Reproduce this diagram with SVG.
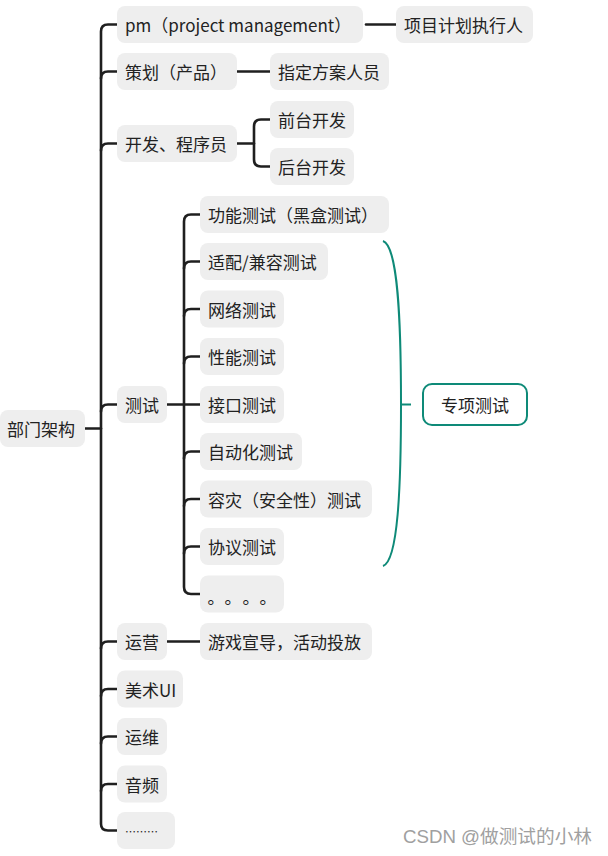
<svg xmlns="http://www.w3.org/2000/svg" width="608" height="856" viewBox="0 0 608 856">
<style>
.b{fill:#eeeeee;}
.t{font-family:"Microsoft YaHei","Noto Sans CJK SC","Noto Sans",sans-serif;font-size:17px;fill:#222;dominant-baseline:central;}
.c{fill:none;stroke:#1f1f1f;stroke-width:2.6;stroke-linecap:round;}
.g{fill:none;stroke:#0e8a78;stroke-width:2;}
</style>
<rect width="608" height="856" fill="#fff"/>
<g id="connectors">
<path class="c" d="M85,428.5 H101"/>
<path class="c" d="M117,24.5 H108 Q101,24.5 101,31.5 V824 Q101,830.5 108,830.5 H117"/>
<path class="c" d="M101,78.5 Q101,71.5 108,71.5 H117"/>
<path class="c" d="M101,150.5 Q101,143.5 108,143.5 H117"/>
<path class="c" d="M101,411.5 Q101,404.5 108,404.5 H117"/>
<path class="c" d="M101,648.5 Q101,641.5 108,641.5 H117"/>
<path class="c" d="M101,696 Q101,689 108,689 H117"/>
<path class="c" d="M101,743.5 Q101,736.5 108,736.5 H117"/>
<path class="c" d="M101,791 Q101,784 108,784 H117"/>
<path class="c" d="M366,24.5 H396"/>
<path class="c" d="M237,71.5 H270"/>
<path class="c" d="M237,143.5 H254"/>
<path class="c" d="M270,119.5 H261 Q254,119.5 254,126.5 V159.5 Q254,166.5 261,166.5 H270"/>
<path class="c" d="M167,404.5 H200"/>
<path class="c" d="M200,214.5 H191 Q184,214.5 184,221.5 V587 Q184,594 191,594 H200"/>
<path class="c" d="M184,268.5 Q184,261.5 191,261.5 H200"/>
<path class="c" d="M184,316 Q184,309 191,309 H200"/>
<path class="c" d="M184,363.5 Q184,356.5 191,356.5 H200"/>
<path class="c" d="M184,458.5 Q184,451.5 191,451.5 H200"/>
<path class="c" d="M184,506 Q184,499 191,499 H200"/>
<path class="c" d="M184,553.5 Q184,546.5 191,546.5 H200"/>
<path class="c" d="M167,641.5 H200"/>
<path class="g" d="M383,241 C398,246 401,320 401,404 C401,488 398,561 383,566"/>
<path class="g" d="M401,404.5 H411"/>
</g>
<g id="root"><rect class="b" x="0" y="410" width="85" height="37" rx="8"/><text class="t" x="7" y="428.5">部门架构</text></g>
<g id="pm"><rect class="b" x="117" y="6" width="246" height="37" rx="8"/><text class="t" x="125" y="24.5">pm（project management）</text></g>
<g id="pm-exec"><rect class="b" x="396" y="6" width="137" height="37" rx="8"/><text class="t" x="404" y="24.5">项目计划执行人</text></g>
<g id="plan"><rect class="b" x="117" y="53" width="120" height="37" rx="8"/><text class="t" x="125" y="71.5">策划（产品）</text></g>
<g id="plan-person"><rect class="b" x="270" y="53" width="119" height="37" rx="8"/><text class="t" x="278" y="71.5">指定方案人员</text></g>
<g id="dev"><rect class="b" x="117" y="125" width="120" height="37" rx="8"/><text class="t" x="125" y="143.5">开发、程序员</text></g>
<g id="frontend"><rect class="b" x="270" y="101" width="84" height="37" rx="8"/><text class="t" x="278" y="119.5">前台开发</text></g>
<g id="backend"><rect class="b" x="270" y="148" width="84" height="37" rx="8"/><text class="t" x="278" y="166.5">后台开发</text></g>
<g id="test"><rect class="b" x="117" y="386" width="50" height="37" rx="8"/><text class="t" x="125" y="404.5">测试</text></g>
<g id="t1"><rect class="b" x="200" y="196" width="189" height="37" rx="8"/><text class="t" x="208" y="214.5">功能测试（黑盒测试）</text></g>
<g id="t2"><rect class="b" x="200" y="243" width="128" height="37" rx="8"/><text class="t" x="208" y="261.5">适配/兼容测试</text></g>
<g id="t3"><rect class="b" x="200" y="290.5" width="84" height="37" rx="8"/><text class="t" x="208" y="309">网络测试</text></g>
<g id="t4"><rect class="b" x="200" y="338" width="84" height="37" rx="8"/><text class="t" x="208" y="356.5">性能测试</text></g>
<g id="t5"><rect class="b" x="200" y="386" width="84" height="37" rx="8"/><text class="t" x="208" y="404.5">接口测试</text></g>
<g id="t6"><rect class="b" x="200" y="433" width="102" height="37" rx="8"/><text class="t" x="208" y="451.5">自动化测试</text></g>
<g id="t7"><rect class="b" x="200" y="480.5" width="172" height="37" rx="8"/><text class="t" x="208" y="499">容灾（安全性）测试</text></g>
<g id="t8"><rect class="b" x="200" y="528" width="84" height="37" rx="8"/><text class="t" x="208" y="546.5">协议测试</text></g>
<g id="t9"><rect class="b" x="200" y="575.5" width="84" height="37" rx="8"/><text style="font-family:'Noto Sans CJK SC',sans-serif;font-size:17px;fill:#222" text-anchor="middle" y="604"><tspan x="216">。</tspan><tspan x="233">。</tspan><tspan x="251">。</tspan><tspan x="268">。</tspan></text></g>
<g id="special"><rect x="423" y="384" width="104" height="41" rx="9" fill="#fff" stroke="#0e8a78" stroke-width="2"/><text class="t" x="475" y="404.5" text-anchor="middle">专项测试</text></g>
<g id="ops"><rect class="b" x="117" y="623" width="50" height="37" rx="8"/><text class="t" x="125" y="641.5">运营</text></g>
<g id="ops-task"><rect class="b" x="200" y="623" width="172" height="37" rx="8"/><text class="t" x="208" y="641.5">游戏宣导，活动投放</text></g>
<g id="art"><rect class="b" x="117" y="670.5" width="66" height="37" rx="8"/><text class="t" x="125" y="689">美术UI</text></g>
<g id="maint"><rect class="b" x="117" y="718" width="50" height="37" rx="8"/><text class="t" x="125" y="736.5">运维</text></g>
<g id="audio"><rect class="b" x="117" y="765.5" width="50" height="37" rx="8"/><text class="t" x="125" y="784">音频</text></g>
<g id="more"><rect class="b" x="117" y="812" width="58" height="37" rx="8"/><text class="t" x="125" y="830.5" style="font-size:11px">………</text></g>
<text x="403" y="843" textLength="189" lengthAdjust="spacingAndGlyphs" style="font-family:'Liberation Sans','Noto Sans CJK SC',sans-serif;font-size:18px;fill:#a0a0a0">CSDN @做测试的小林</text>
</svg>
